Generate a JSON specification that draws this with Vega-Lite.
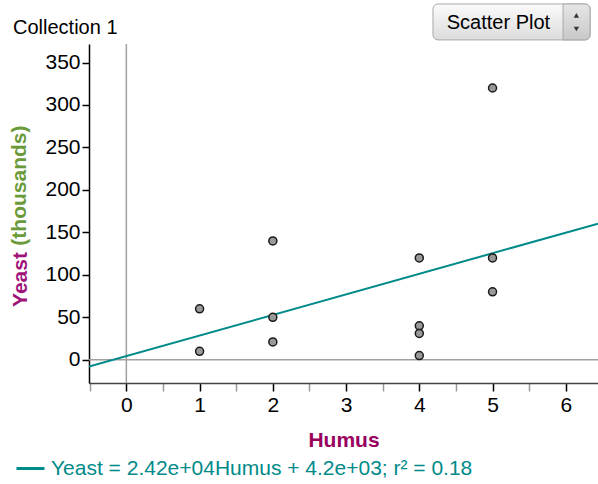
{
  "$schema": "https://vega.github.io/schema/vega-lite/v6.json",
  "width": 509,
  "height": 339,
  "autosize": {"type": "none"},
  "padding": {"left": 89, "top": 44, "right": 0, "bottom": 101},
  "background": "white",
  "config": {
    "font": "Liberation Sans",
    "view": {"stroke": null}
  },
  "title": {
    "text": "Collection 1",
    "anchor": "start",
    "frame": "group",
    "fontSize": 20,
    "fontWeight": "normal",
    "font": "Liberation Sans",
    "color": "black",
    "dx": -76,
    "dy": 41,
    "offset": 6
  },
  "datasets": {
    "points": [
      {"Humus": 1, "Yeast": 60},
      {"Humus": 1, "Yeast": 10},
      {"Humus": 2, "Yeast": 140},
      {"Humus": 2, "Yeast": 50},
      {"Humus": 2, "Yeast": 21},
      {"Humus": 4, "Yeast": 120},
      {"Humus": 4, "Yeast": 40},
      {"Humus": 4, "Yeast": 31},
      {"Humus": 4, "Yeast": 5},
      {"Humus": 5, "Yeast": 120},
      {"Humus": 5, "Yeast": 80},
      {"Humus": 5, "Yeast": 320}
    ],
    "ui": [{"label": "Scatter Plot", "unit": "(thousands)"}]
  },
  "layer": [
    {
      "data": {"name": "points"},
      "mark": {"type": "point", "size": 0, "opacity": 0},
      "encoding": {
        "x": {
          "field": "Humus", "type": "quantitative",
          "scale": {"domain": [-0.51, 6.44], "nice": false, "zero": false},
          "axis": {
            "orient": "bottom",
            "values": [-0.5, 0, 0.5, 1, 1.5, 2, 2.5, 3, 3.5, 4, 4.5, 5, 5.5, 6, 6.5],
            "tickCount": 40,
            "labelExpr": "datum.value % 1 === 0 ? format(datum.value, 'd') : ''",
            "title": "Humus",
            "titleColor": "#99005e",
            "titleFontSize": 21,
            "titleFontWeight": "bold",
            "titleBaseline": "alphabetic",
            "titleY": 63,
            "labelFontSize": 21,
            "labelColor": "black",
            "labelPadding": 3,
            "labelFlush": false,
            "labelOverlap": false,
            "tickSize": 8,
            "tickWidth": 1.5,
            "tickColor": {"condition": {"test": "datum.value % 1 === 0", "value": "#000000"}, "value": "#9a9a9a"},
            "domainColor": "#444444",
            "domainWidth": 1.5,
            "grid": false
          }
        },
        "y": {
          "field": "Yeast", "type": "quantitative",
          "scale": {"domain": [-27.3, 371.8], "nice": false, "zero": false},
          "axis": {
            "orient": "left",
            "values": [0, 50, 100, 150, 200, 250, 300, 350],
            "tickCount": 40,
            "title": "Yeast",
            "titleColor": "#a0147a",
            "titleFontSize": 21,
            "titleFontWeight": "bold",
            "titleAngle": 270,
            "titleAlign": "center",
            "titleBaseline": "alphabetic",
            "titleX": -63,
            "titleY": 235,
            "labelFontSize": 21,
            "labelColor": "black",
            "labelPadding": 2,
            "tickSize": 7,
            "tickWidth": 1.5,
            "tickColor": "#000000",
            "domainColor": "#000000",
            "domainWidth": 1.5,
            "grid": false
          }
        }
      }
    },
    {
      "data": {"name": "ui"},
      "mark": {"type": "rule", "color": "#a0a0a0", "strokeWidth": 1.5},
      "encoding": {
        "x": {"datum": 0, "type": "quantitative"}
      }
    },
    {
      "data": {"name": "ui"},
      "mark": {"type": "rule", "color": "#a0a0a0", "strokeWidth": 1.5},
      "encoding": {
        "y": {"datum": 0, "type": "quantitative"}
      }
    },
    {
      "data": {"name": "points"},
      "transform": [{"regression": "Yeast", "on": "Humus", "extent": [-0.51, 6.44]}],
      "mark": {"type": "line", "strokeWidth": 2, "clip": true},
      "encoding": {
        "x": {"field": "Humus", "type": "quantitative"},
        "y": {"field": "Yeast", "type": "quantitative"},
        "color": {
          "datum": "Yeast = 2.42e+04Humus + 4.2e+03; r² = 0.18",
          "type": "nominal",
          "scale": {"range": ["#008a8a"]},
          "legend": {
            "orient": "none",
            "legendX": -74,
            "legendY": 409,
            "title": null,
            "padding": 0,
            "symbolType": "stroke",
            "symbolSize": 784,
            "symbolStrokeWidth": 3,
            "labelFontSize": 21,
            "labelColor": "#008a8a",
            "labelLimit": 0,
            "labelOffset": 5
          }
        }
      }
    },
    {
      "data": {"name": "points"},
      "mark": {"type": "point", "filled": true, "fill": "#999999", "stroke": "#1a1a1a", "strokeWidth": 1.5, "size": 64, "opacity": 1},
      "encoding": {
        "x": {"field": "Humus", "type": "quantitative"},
        "y": {"field": "Yeast", "type": "quantitative"}
      }
    },
    {
      "data": {"name": "ui"},
      "mark": {"type": "text", "angle": 270, "align": "center", "baseline": "alphabetic", "fontSize": 21, "fontWeight": "bold", "color": "#6a9a3a", "font": "Liberation Sans"},
      "encoding": {
        "x": {"datum": -1.373, "type": "quantitative"},
        "y": {"datum": 205.1, "type": "quantitative"},
        "text": {"field": "unit"}
      }
    },
    {
      "data": {"name": "ui"},
      "mark": {
        "type": "rect", "cornerRadius": 5, "stroke": "#a8a8a8", "strokeWidth": 1,
        "fill": {"gradient": "linear", "x1": 0, "y1": 0, "x2": 0, "y2": 1, "stops": [{"offset": 0, "color": "#fbfbfb"}, {"offset": 1, "color": "#dcdcdc"}]}
      },
      "encoding": {
        "x": {"datum": 4.187, "type": "quantitative"},
        "x2": {"datum": 6.332},
        "y": {"datum": 418.9, "type": "quantitative"},
        "y2": {"datum": 376.6}
      }
    },
    {
      "data": {"name": "ui"},
      "mark": {
        "type": "rect", "cornerRadiusTopRight": 5, "cornerRadiusBottomRight": 5,
        "fill": {"gradient": "linear", "x1": 0, "y1": 0, "x2": 0, "y2": 1, "stops": [{"offset": 0, "color": "#e6e6e6"}, {"offset": 1, "color": "#c8c8c8"}]},
        "stroke": "#a8a8a8", "strokeWidth": 1
      },
      "encoding": {
        "x": {"datum": 5.963, "type": "quantitative"},
        "x2": {"datum": 6.332},
        "y": {"datum": 418.9, "type": "quantitative"},
        "y2": {"datum": 376.6}
      }
    },
    {
      "data": {"name": "ui"},
      "mark": {"type": "text", "fontSize": 20, "color": "black", "align": "center", "baseline": "middle", "font": "Liberation Sans"},
      "encoding": {
        "x": {"datum": 5.08, "type": "quantitative"},
        "y": {"datum": 397.0, "type": "quantitative"},
        "text": {"field": "label"}
      }
    },
    {
      "data": {"name": "ui"},
      "mark": {"type": "point", "shape": "triangle-up", "filled": true, "color": "#333333", "size": 28, "opacity": 1},
      "encoding": {
        "x": {"datum": 6.145, "type": "quantitative"},
        "y": {"datum": 405.5, "type": "quantitative"}
      }
    },
    {
      "data": {"name": "ui"},
      "mark": {"type": "point", "shape": "triangle-down", "filled": true, "color": "#333333", "size": 28, "opacity": 1},
      "encoding": {
        "x": {"datum": 6.145, "type": "quantitative"},
        "y": {"datum": 389.5, "type": "quantitative"}
      }
    }
  ]
}
